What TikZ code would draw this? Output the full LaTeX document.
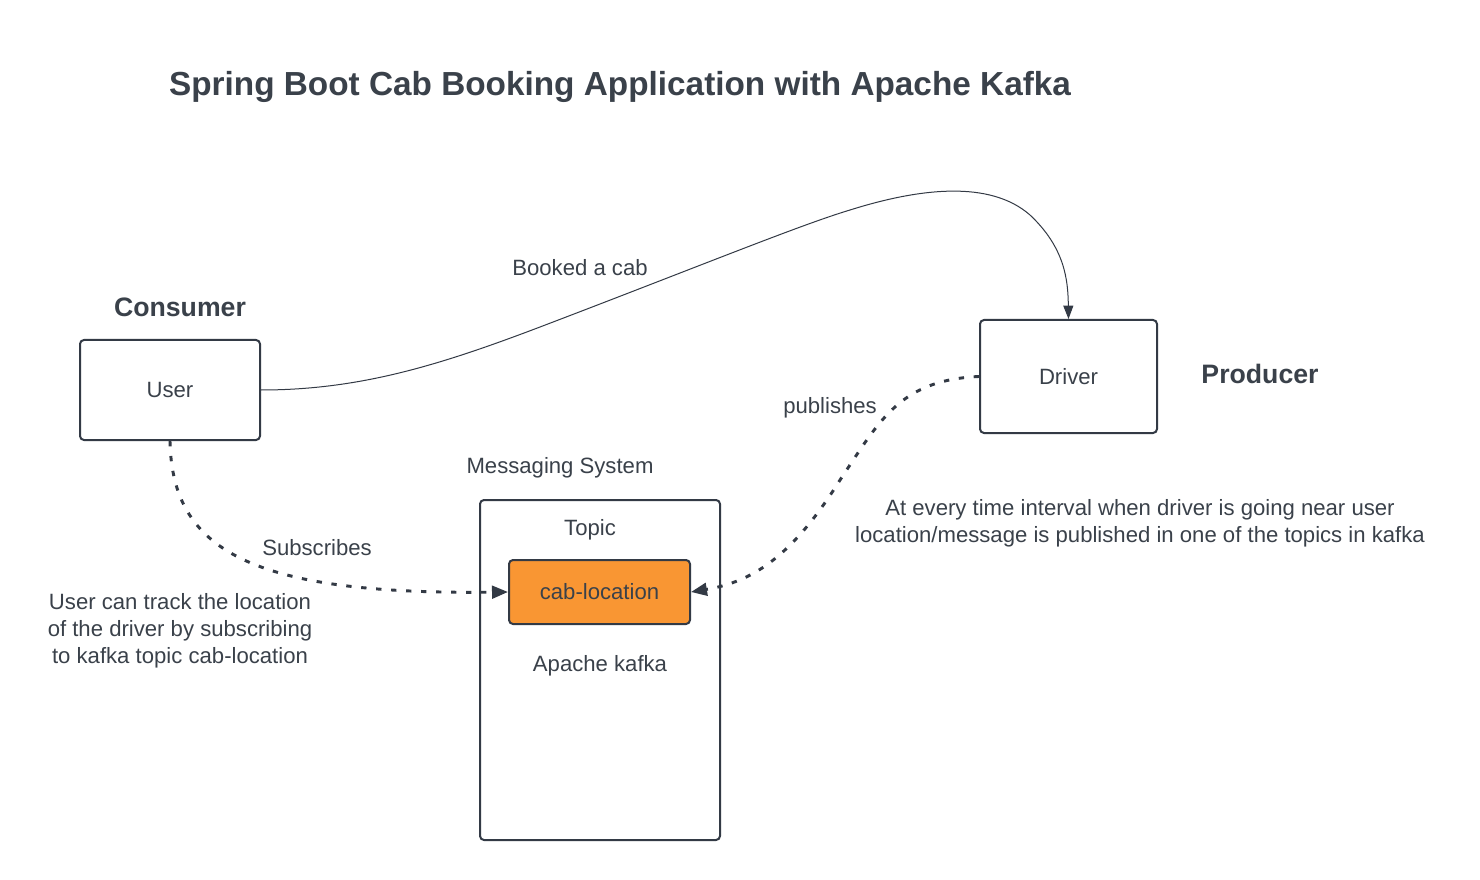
\documentclass[tikz,border=0pt]{standalone}
\usepackage{fontspec}
\setmainfont{Liberation Sans}
\usetikzlibrary{arrows.meta}
\definecolor{ink}{HTML}{333A45}
\definecolor{txt}{HTML}{3A414A}
\definecolor{orangefill}{HTML}{F99633}
\begin{document}
\begin{tikzpicture}[x=0.75pt,y=-0.75pt,
  box/.style={draw=ink,line width=1.5pt,rounded corners=3pt,inner sep=0pt},
  lbl/.style={text=txt,font=\fontsize{16.6}{20.25}\selectfont,inner sep=0pt},
  head/.style={text=txt,font=\bfseries\fontsize{20}{24}\selectfont,inner sep=0pt},
  dotline/.style={draw=ink,line width=2.2pt,dash pattern=on 4pt off 7.25pt,-{Triangle[length=12pt,width=9.5pt]}},
  thinline/.style={draw=ink,line width=0.75pt,-{Triangle[length=10pt,width=7.5pt]}}]
\useasboundingbox (0,0) rectangle (1480,880);
\fill[white] (0,0) rectangle (1480,880);
\node[text=txt,font=\bfseries\fontsize{25}{30}\selectfont,inner sep=0pt] (title) at (620,87) {Spring Boot Cab Booking Application with Apache Kafka};
\node[head] (consumer) at (180,307) {Consumer};
\node[head] (producer) at (1260,374) {Producer};
\node[box,minimum width=135pt,minimum height=75pt] (user) at (170,390) {};
\node[lbl] at (user.center) {User};
\node[box,minimum width=132.75pt,minimum height=84.75pt] (driver) at (1068.5,376.5) {};
\node[lbl] at (driver.center) {Driver};
\node[lbl] (msg) at (560,468) {Messaging System};
\node[box,minimum width=180pt,minimum height=255pt] (kafka) at (600,670) {};
\node[lbl] (topic) at (590,530) {Topic};
\node[box,fill=orangefill,minimum width=135.75pt,minimum height=48pt] (cab) at (599.5,592) {};
\node[lbl] at (cab.center) {cab-location};
\node[lbl] (apache) at (600,666) {Apache kafka};
\node[lbl] (booked) at (580,268) {Booked a cab};
\node[lbl] (publishes) at (830,408) {publishes};
\node[lbl] (subscribes) at (317,548) {Subscribes};
\node[lbl,align=center] (note1) at (180,631) {User can track the location\\of the driver by subscribing\\to kafka topic cab-location};
\node[lbl,align=center] (note2) at (1140,523) {At every time interval when driver is going near user\\location/message is published in one of the topics in kafka};
\draw[thinline] (user.east) .. controls (360,390) and (440,365) .. (540,327)
  .. controls (700,266) and (800,225) .. (850,210)
  .. controls (920,188) and (990,180) .. (1030,215)
  .. controls (1065,248) and (1068,280) .. (driver.north);
\draw[dotline] (driver.west) .. controls (900,380) and (880,420) .. (840,480)
  .. controls (790,560) and (750,582) .. (cab.east);
\draw[dotline] (user.south) .. controls (172,550) and (250,595) .. (cab.west);
\end{tikzpicture}
\end{document}
